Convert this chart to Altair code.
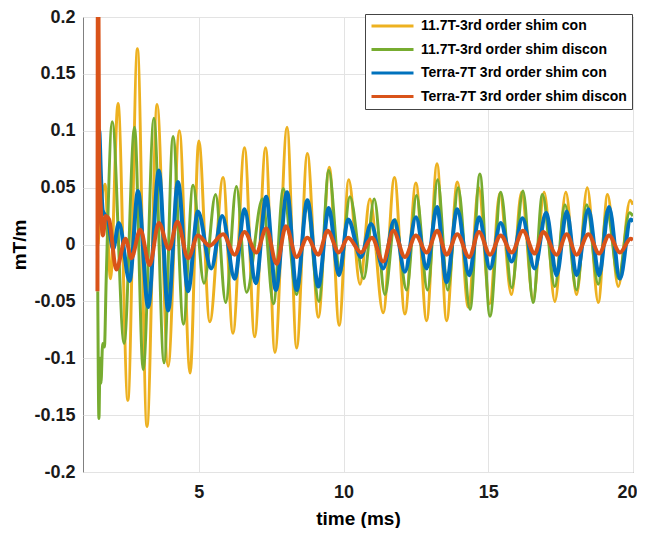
import altair as alt
import pandas as pd

# ---- data (local extrema of each trace) ----
series_names = [
    "11.7T-3rd order shim con",
    "11.7T-3rd order shim discon",
    "Terra-7T 3rd order shim con",
    "Terra-7T 3rd order shim discon",
]
series_colors = ["#EDB120", "#77AC30", "#0072BD", "#D95319"]

yellow_t = [1.52, 1.76, 1.95, 2.21, 2.55, 2.88, 3.21, 3.56, 3.94, 4.33, 4.70, 5.00, 5.38, 5.84,
            6.18, 6.58, 6.93, 7.31, 7.63, 8.05, 8.38, 8.75, 9.13, 9.51, 9.85, 10.18, 10.57, 10.91,
            11.37, 11.76, 12.12, 12.50, 12.87, 13.23, 13.56, 13.93, 14.31, 14.67, 15.05, 15.40,
            15.80, 16.15, 16.55, 16.93, 17.30, 17.68, 18.05, 18.42, 18.80, 19.12, 19.49, 19.90, 20.0]
yellow_v = [0.0, 0.053, -0.03, 0.124, -0.137, 0.172, -0.160, 0.123, -0.107, 0.100, -0.113, 0.091,
            -0.068, 0.059, -0.078, 0.085, -0.081, 0.085, -0.095, 0.103, -0.091, 0.080, -0.064, 0.068,
            -0.071, 0.057, -0.035, 0.040, -0.060, 0.059, -0.061, 0.054, -0.067, 0.071, -0.067, 0.055,
            -0.055, 0.050, -0.052, 0.045, -0.044, 0.046, -0.048, 0.046, -0.050, 0.046, -0.044, 0.050,
            -0.051, 0.044, -0.037, 0.039, 0.035]

green_t = [1.51, 1.55, 1.59, 1.62, 1.68, 1.74, 1.80, 2.01, 2.42, 2.78, 3.08, 3.45, 3.80, 4.11, 4.47,
           4.80, 5.18, 5.58, 5.93, 6.30, 6.65, 7.20, 7.58, 7.92, 8.38, 8.73, 9.15, 9.49, 9.88, 10.22,
           10.70, 11.06, 11.43, 11.78, 12.18, 12.52, 12.90, 13.25, 13.60, 13.96, 14.37, 14.71, 15.06,
           15.43, 15.81, 16.20, 16.55, 16.87, 17.30, 17.65, 18.05, 18.40, 18.80, 19.10, 19.50, 19.88, 20.0]
green_v = [-0.041, -0.153, -0.100, -0.122, -0.087, -0.090, -0.032, 0.108, -0.087, 0.103, -0.110, 0.111,
           -0.104, 0.095, -0.070, 0.052, -0.034, 0.044, -0.051, 0.051, -0.042, 0.040, -0.052, 0.049,
           -0.044, 0.036, -0.050, 0.065, -0.025, 0.042, -0.030, 0.040, -0.044, 0.022, -0.040, 0.043,
           -0.040, 0.057, -0.040, 0.050, -0.057, 0.062, -0.063, 0.046, -0.038, 0.047, -0.051, 0.044,
           -0.037, 0.035, -0.040, 0.035, -0.035, 0.030, -0.030, 0.028, 0.025]

blue_t = [1.54, 1.56, 1.62, 1.68, 1.76, 1.86, 2.04, 2.24, 2.61, 2.90, 3.25, 3.62, 3.94, 4.28, 4.63,
          4.97, 5.43, 5.81, 6.24, 6.58, 6.97, 7.33, 7.66, 8.05, 8.38, 8.75, 9.13, 9.49, 9.84, 10.16,
          10.60, 10.95, 11.37, 11.75, 12.12, 12.50, 12.87, 13.23, 13.56, 13.93, 14.34, 14.68, 15.06,
          15.43, 15.81, 16.18, 16.60, 17.00, 17.36, 17.71, 18.05, 18.46, 18.83, 19.17, 19.55, 19.92, 20.0]
blue_v = [0.02, 0.100, 0.060, 0.030, 0.026, 0.022, -0.004, 0.019, -0.032, 0.047, -0.055, 0.065, -0.058,
          0.055, -0.041, 0.029, -0.021, 0.025, -0.030, 0.031, -0.034, 0.042, -0.040, 0.046, -0.040,
          0.039, -0.037, 0.032, -0.027, 0.022, -0.011, 0.018, -0.021, 0.021, -0.024, 0.024, -0.021,
          0.033, -0.033, 0.031, -0.027, 0.024, -0.021, 0.019, -0.015, 0.023, -0.021, 0.028, -0.027,
          0.029, -0.027, 0.031, -0.027, 0.033, -0.030, 0.022, 0.020]

red_t = [1.50, 1.52, 1.555, 1.60, 1.69, 1.78, 1.90, 2.15, 2.47, 2.67, 2.98, 3.30, 3.62, 3.97, 4.26,
         4.63, 4.97, 5.37, 5.84, 6.24, 6.58, 6.99, 7.33, 7.69, 8.01, 8.38, 8.75, 9.13, 9.45, 9.84,
         10.16, 10.60, 10.98, 11.37, 11.72, 12.12, 12.50, 12.87, 13.24, 13.56, 13.93, 14.34, 14.68,
         15.06, 15.43, 15.81, 16.20, 16.60, 16.90, 17.36, 17.71, 18.05, 18.46, 18.83, 19.17, 19.55,
         19.92, 20.0]
red_v = [-0.041, 0.30, 0.071, 0.040, 0.008, 0.025, 0.022, -0.022, 0.005, -0.012, 0.013, -0.018, 0.019,
         -0.004, 0.020, -0.012, 0.008, -0.001, 0.009, -0.009, 0.011, -0.007, 0.014, -0.017, 0.016,
         -0.011, 0.006, -0.009, 0.012, -0.007, 0.006, -0.007, 0.006, -0.015, 0.012, -0.011, 0.008,
         -0.007, 0.012, -0.009, 0.009, -0.011, 0.011, -0.009, 0.008, -0.007, 0.012, -0.008, 0.011,
         -0.009, 0.009, -0.009, 0.009, -0.008, 0.008, -0.007, 0.005, 0.004]

x_ticks = [5, 10, 15, 20]
y_ticks = [-0.2, -0.15, -0.1, -0.05, 0, 0.05, 0.1, 0.15, 0.2]

rows = []
for name, ts, vs in zip(series_names, [yellow_t, green_t, blue_t, red_t],
                        [yellow_v, green_v, blue_v, red_v]):
    for t, v in zip(ts, vs):
        rows.append({"series": name, "t": t, "v": v})
df = pd.DataFrame(rows)

FONT = "Liberation Sans"

color_scale = alt.Scale(domain=series_names, range=series_colors)

x_enc = alt.X(
    "t:Q",
    scale=alt.Scale(domain=[1, 20], nice=False, zero=False),
    axis=alt.Axis(values=x_ticks, title="time (ms)", grid=True, ticks=False, tickSize=0,
                  labelPadding=11, titlePadding=8, domain=False,
                  labelFlush=True, labelFlushOffset=4),
)
y_enc = alt.Y(
    "v:Q",
    scale=alt.Scale(domain=[-0.2, 0.2], nice=False, zero=False),
    axis=alt.Axis(values=y_ticks, title="mT/m", grid=True, ticks=False, tickSize=0,
                  labelPadding=8, titlePadding=4, domain=False,
                  labelExpr="datum.value == 0 ? '0' : (datum.value < 0 ? '-' : '') + format(abs(datum.value), '.2~f')"),
)
legend = alt.Legend(
    title=None, orient="none", legendX=282, legendY=-3,
    symbolType="stroke", symbolSize=1764, symbolStrokeWidth=3, clipHeight=14,
    labelFontSize=14, labelFont=FONT, labelFontWeight="bold", labelColor="black",
    labelLimit=400, labelOffset=6, fillColor="white", strokeColor="#444444",
    padding=5, rowPadding=9.5,
)

widths = [3, 3, 4, 4]
layers = []
for i, name in enumerate(series_names):
    layers.append(
        alt.Chart(df)
        .transform_filter(alt.datum.series == name)
        .mark_line(interpolate="monotone", strokeWidth=widths[i], clip=True)
        .encode(
            x=x_enc,
            y=y_enc,
            color=alt.Color("series:N", scale=color_scale, legend=legend),
        )
    )

chart = (
    alt.layer(*layers)
    .properties(
        width=550, height=455,
        background="white",
        autosize=alt.AutoSizeParams(type="none"),
        padding={"left": 75, "top": 9, "right": 4, "bottom": 56},
    )
    .configure_view(stroke="#808080", strokeWidth=1)
    .configure_axis(
        labelFont=FONT, labelFontSize=18, labelFontWeight="bold", labelColor="#1a1a1a",
        titleFont=FONT, titleFontSize=19, titleFontWeight="bold", titleColor="black",
        gridColor="#e3e3e3", gridWidth=1,
    )
)

chart.save("out.html", embed_options={"renderer": "svg", "actions": False})
